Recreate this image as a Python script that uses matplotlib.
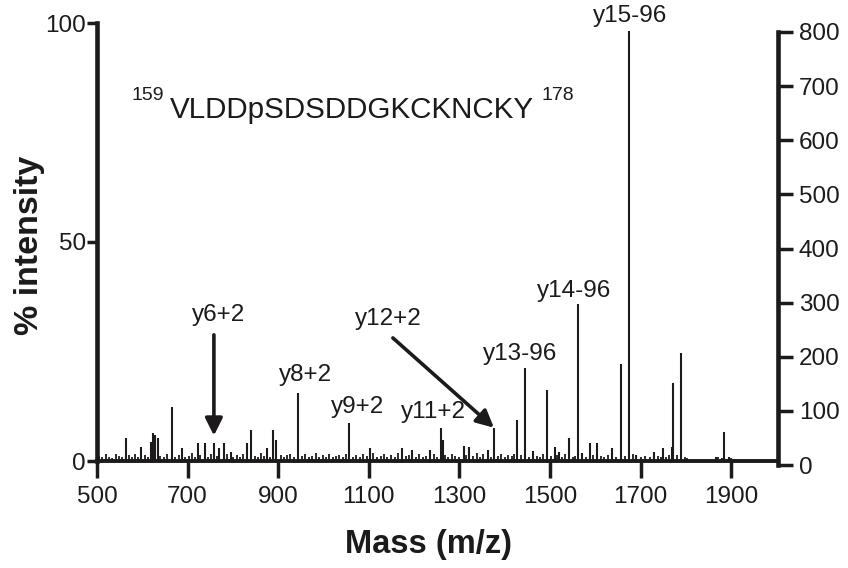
import numpy as np
import matplotlib
matplotlib.use("Agg")
import matplotlib.pyplot as plt

plt.rcParams['font.family'] = ['Liberation Sans', 'DejaVu Sans']

ink = '#1c1a1a'

# main fragment peaks (m/z, % intensity)
peak_mz = [563, 598, 619, 623, 627, 634, 665, 687, 722, 738, 759, 770, 780, 795,
           830, 839, 875, 888, 895, 944, 1057, 1103, 1173, 1195, 1235, 1259, 1263,
           1309, 1322, 1362, 1376, 1428, 1445, 1462, 1493, 1510, 1520, 1542, 1562,
           1571, 1589, 1604, 1637, 1657, 1674, 1690, 1730, 1750, 1768, 1772, 1789,
           1866, 1884, 1895]
peak_int = [5.2, 3.3, 4.3, 6.5, 5.9, 5.2, 12.3, 3.0, 4.2, 4.2, 4.2, 2.9, 4.2, 2.0,
            4.2, 7.1, 2.9, 7.1, 4.8, 15.6, 8.7, 2.9, 2.9, 2.6, 2.6, 7.5, 4.8,
            3.5, 3.3, 2.5, 7.5, 9.4, 21.2, 2.3, 16.1, 3.3, 2.1, 5.2, 35.8,
            1.8, 4.2, 4.0, 2.9, 22.1, 98.2, 1.4, 2.0, 3.0, 3.2, 17.7, 24.6,
            1.0, 6.6, 1.0]

# low-level chemical noise along the baseline
noise_mz = [505, 512, 519, 527, 533, 541, 548, 555, 570, 577,
            584, 591, 605, 612, 640, 648, 655, 672, 680, 695,
            703, 710, 716, 728, 745, 752, 765, 787, 801, 808,
            815, 822, 848, 855, 862, 868, 881, 905, 912, 920,
            927, 935, 952, 960, 968, 975, 983, 990, 998, 1005,
            1012, 1020, 1028, 1035, 1043, 1050, 1065, 1072, 1080, 1088,
            1095, 1110, 1118, 1126, 1133, 1141, 1149, 1157, 1165, 1181,
            1188, 1203, 1211, 1219, 1227, 1243, 1250, 1268, 1275, 1283,
            1290, 1298, 1315, 1330, 1338, 1345, 1353, 1369, 1384, 1392,
            1400, 1408, 1415, 1421, 1436, 1453, 1470, 1478, 1485, 1501,
            1515, 1527, 1534, 1550, 1556, 1580, 1595, 1612, 1620, 1628,
            1645, 1666, 1684, 1700, 1710, 1720, 1738, 1745, 1755, 1762,
            1781, 1797, 1803, 1870, 1880, 1900]
noise_int = [1.2, 0.8, 1.5, 1.0, 0.7, 1.6, 1.1, 0.9, 1.3, 0.8,
             1.7, 1.0, 1.4, 0.9, 1.2, 0.8, 1.6, 1.0, 1.3, 0.9,
             1.1, 1.8, 0.9, 1.4, 1.0, 1.5, 1.2, 1.7, 0.8, 1.3,
             1.0, 1.6, 1.1, 0.8, 1.9, 1.2, 1.0, 1.4, 0.9, 1.3,
             1.7, 0.8, 1.1, 1.5, 0.9, 1.2, 1.8, 0.8, 1.3, 1.0,
             1.6, 0.9, 1.2, 1.4, 0.8, 1.7, 1.0, 1.3, 0.9, 1.5,
             1.1, 1.8, 0.9, 1.2, 1.6, 1.0, 1.4, 0.8, 1.9, 1.1,
             1.3, 1.0, 1.5, 0.9, 1.2, 1.7, 1.0, 1.4, 0.8, 1.6,
             1.2, 0.9, 1.3, 1.1, 1.8, 0.9, 1.5, 1.0, 1.2, 1.6,
             0.9, 1.4, 1.1, 1.7, 1.3, 1.0, 1.2, 0.8, 1.5, 1.1,
             1.3, 0.9, 1.6, 1.0, 1.2, 0.9, 1.4, 1.1, 0.8, 1.3,
             1.0, 1.2, 1.5, 0.9, 1.1, 0.8, 1.2, 1.0, 0.9, 1.3,
             1.4, 0.9, 0.7, 0.8, 0.6, 0.7]

# annotated ions: text, label centre m/z, label bottom (% intensity)
ion_text = ['y8+2', 'y9+2', 'y11+2', 'y13-96', 'y14-96', 'y15-96']
ion_x = [961, 1076, 1242, 1434, 1553, 1677]
ion_y = [17.1, 9.8, 8.7, 21.9, 36.2, 99.1]

fig = plt.figure(figsize=(8.48, 5.68), dpi=100)
ax = fig.add_axes([97 / 848, 107 / 568, 681 / 848, 438 / 568])
ax.set_xlim(500, 2003)
ax.set_ylim(0, 100)

ax.vlines(noise_mz, 0, noise_int, color=ink, lw=1.3)
ax.vlines(peak_mz, 0, peak_int, color=ink, lw=1.5)

for s in ['top', 'right']:
    ax.spines[s].set_visible(False)
ax.spines['left'].set_linewidth(3.3)
ax.spines['bottom'].set_linewidth(2.8)
for s in ['left', 'bottom']:
    ax.spines[s].set_color(ink)

ax.set_yticks([0, 50, 100])
ax.set_xticks(np.arange(500, 2000, 200))
ax.tick_params(axis='y', direction='out', length=7, width=2.5, pad=1,
               labelsize=17.5, color=ink, labelcolor=ink)
ax.tick_params(axis='x', direction='out', length=12, width=2.5, pad=6,
               labelsize=17.5, color=ink, labelcolor=ink)

# second intensity scale (counts) on the right
ax2 = fig.add_axes([97 / 848, 103 / 568, 681 / 848, 433 / 568])
ax2.patch.set_visible(False)
ax2.set_ylim(0, 800)
ax2.set_xlim(500, 2003)
for s in ['top', 'left', 'bottom']:
    ax2.spines[s].set_visible(False)
ax2.spines['right'].set_linewidth(3.3)
ax2.spines['right'].set_color(ink)
ax2.set_xticks([])
ax2.yaxis.tick_right()
ax2.set_yticks(np.arange(0, 801, 100))
ax2.tick_params(axis='y', direction='out', length=11, width=2.5, pad=4,
                labelsize=17.5, color=ink, labelcolor=ink)

for t, x, y in zip(ion_text, ion_x, ion_y):
    ax.text(x, y, t, ha='center', va='bottom', fontsize=17.5, color=ink,
            clip_on=False)

# arrowed labels
ax.text(769, 30.8, 'y6+2', ha='center', va='bottom', fontsize=17.5, color=ink)
ax.annotate('', xy=(758, 5.8), xytext=(758, 28.8),
            arrowprops=dict(arrowstyle='-|>', lw=2.6, color=ink,
                            mutation_scale=26, shrinkA=0, shrinkB=0))
ax.text(1142, 30.0, 'y12+2', ha='center', va='bottom', fontsize=17.5, color=ink)
ax.annotate('', xy=(1376, 7.6), xytext=(1153, 28.1),
            arrowprops=dict(arrowstyle='-|>', lw=2.6, color=ink,
                            mutation_scale=26, shrinkA=0, shrinkB=0))

# peptide sequence
ax.text(577, 82.4, '159', ha='left', va='baseline', fontsize=14, color=ink)
ax.text(661, 78.3, 'VLDDpSDSDDGKCKNCKY', ha='left', va='baseline',
        fontsize=21.3, color=ink)
ax.text(1482, 82.4, '178', ha='left', va='baseline', fontsize=14, color=ink)

fig.text(428 / 848, 1 - 545 / 568, 'Mass (m/z)', ha='center', va='center',
         fontsize=23.5, fontweight='bold', color=ink)
fig.text(30 / 848, 1 - 245 / 568, '% intensity', ha='center', va='center',
         rotation=90, fontsize=24.5, fontweight='bold', color=ink)

fig.savefig('out.png', dpi=100)
